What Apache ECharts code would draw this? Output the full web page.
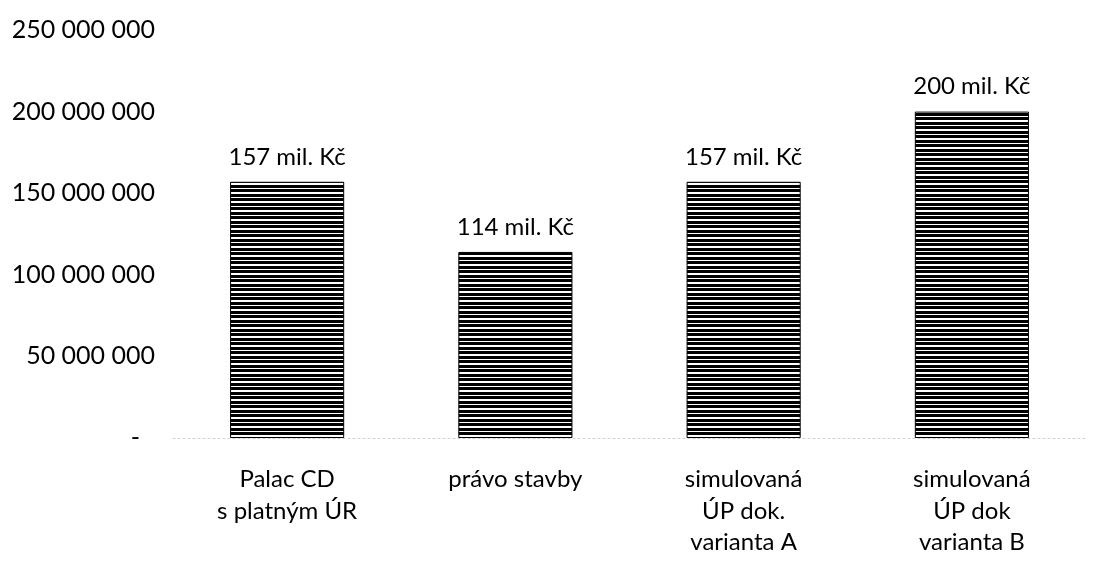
<!DOCTYPE html>
<html>
<head>
<meta charset="utf-8">
<script src="https://cdn.jsdelivr.net/npm/echarts@6/dist/echarts.min.js"></script>
<style>
  html, body { margin: 0; padding: 0; background: #fff; }
  #chart { width: 1093px; height: 561px; }
</style>
</head>
<body>
<div id="chart"></div>
<script>
// Categories and values (CZK)
const categories = [
  'Palac CD\ns platným ÚR',
  'právo stavby',
  'simulovaná\nÚP dok.\nvarianta A',
  'simulovaná\nÚP dok\nvarianta B'
];
const values = [157000000, 114000000, 157000000, 200000000];
const yTicks = [0, 50000000, 100000000, 150000000, 200000000, 250000000];

// Horizontal black/white stripe fill for the bars
function stripeTile() {
  const c = document.createElement('canvas');
  c.width = 8; c.height = 9;
  const g = c.getContext('2d');
  g.fillStyle = '#fff';
  g.fillRect(0, 0, 8, 9);
  g.fillStyle = '#000';
  g.fillRect(0, 0, 8, 3);
  g.fillRect(0, 5, 8, 3);
  return c;
}

const font = 'Lato, "Open Sans", sans-serif';

function fmtAxis(v) {
  if (v === 0) return '{dash|-}';
  return String(v).replace(/\B(?=(\d{3})+(?!\d))/g, ' ');
}

const chart = echarts.init(document.getElementById('chart'));
chart.setOption({
  animation: false,
  backgroundColor: '#fff',
  grid: { left: 173, right: 7, top: 30, bottom: 123 },
  xAxis: {
    type: 'category',
    data: categories,
    axisTick: { show: false },
    axisLine: { lineStyle: { color: '#cfcfcf', type: [2, 3], width: 1 } },
    axisLabel: {
      color: '#000', fontSize: 24, fontFamily: font,
      lineHeight: 31.5, margin: 26, interval: 0
    }
  },
  yAxis: {
    type: 'value',
    min: yTicks[0],
    max: yTicks[yTicks.length - 1],
    interval: 50000000,
    splitLine: { show: false },
    axisLine: { show: false },
    axisTick: { show: false },
    axisLabel: {
      color: '#000', fontSize: 25, fontFamily: font, margin: 18,
      formatter: fmtAxis,
      rich: { dash: { fontSize: 25, fontFamily: font, color: '#000', padding: [0, 15, 0, 0] } }
    }
  },
  series: [{
    type: 'bar',
    data: values,
    barWidth: '50%',
    itemStyle: {
      color: { image: stripeTile(), repeat: 'repeat' },
      borderColor: '#000',
      borderWidth: 1
    },
    label: {
      show: true,
      position: 'top',
      distance: 13,
      color: '#000',
      fontSize: 24,
      fontFamily: font,
      formatter: p => Math.round(p.value / 1000000) + ' mil. Kč'
    }
  }]
});
</script>
</body>
</html>
